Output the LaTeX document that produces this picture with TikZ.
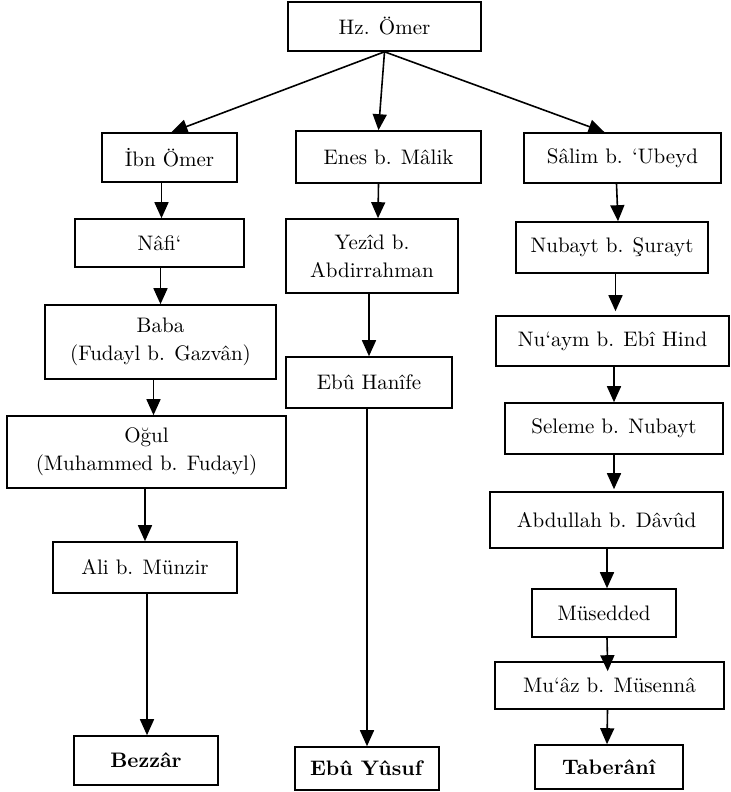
\documentclass[tikz,border=0pt]{standalone}
\usetikzlibrary{arrows.meta}

\begin{document}
\begin{tikzpicture}[x=0.5pt,y=-0.5pt,line width=0.8pt,
    box/.style={draw, align=center, inner sep=0pt, font=\fontsize{10.5}{14}\selectfont},
    >={Triangle[length=8pt,width=7pt]}]
    \useasboundingbox (0,0) rectangle (730,792);
    \node[box, minimum width=96.5pt, minimum height=24.5pt] (hz) at (384.5,26.5) {Hz. Ömer};

      \node[box, minimum width=67.5pt, minimum height=24.5pt] (ibn) at (169.5,157.5) {İbn Ömer};
      \node[box, minimum width=84.5pt, minimum height=24pt] (nafi) at (159.5,243) {Nâfi‘};
      \node[box, minimum width=115.5pt, minimum height=37pt] (baba) at (160.5,342) {Baba\\(Fudayl b. Gazvân)};
      \node[box, minimum width=139.5pt, minimum height=36pt] (ogul) at (146.5,452) {Oğul\\(Muhammed b. Fudayl)};
      \node[box, minimum width=92pt, minimum height=25.5pt] (ali) at (145,567.5) {Ali b. Münzir};
      \node[box, minimum width=72pt, minimum height=24.5pt] (bezzar) at (146,760.5) {\textbf{Bezzâr}};

      \node[box, minimum width=92.5pt, minimum height=26pt] (enes) at (388.5,157) {Enes b. Mâlik};
      \node[box, minimum width=86pt, minimum height=37pt] (yezid) at (372,256) {Yezîd b.\\Abdirrahman};
      \node[box, minimum width=83pt, minimum height=25.5pt] (hanife) at (369,382.5) {Ebû Hanîfe};
      \node[box, minimum width=72pt, minimum height=21.5pt] (yusuf) at (367,768.5) {\textbf{Ebû Yûsuf}};

      \node[box, minimum width=98.5pt, minimum height=25pt] (salim) at (622.5,158) {Sâlim b. ‘Ubeyd};
      \node[box, minimum width=96pt, minimum height=25.5pt] (nubayt) at (612,247.5) {Nubayt b. Şurayt};
      \node[box, minimum width=116.5pt, minimum height=25pt] (nuaym) at (612.5,341) {Nu‘aym b. Ebî Hind};
      \node[box, minimum width=109pt, minimum height=25.5pt] (seleme) at (614,428.5) {Seleme b. Nubayt};
      \node[box, minimum width=116.5pt, minimum height=28pt] (abdullah) at (606.5,520) {Abdullah b. Dâvûd};
      \node[box, minimum width=72pt, minimum height=24pt] (musedded) at (604,613) {Müsedded};
      \node[box, minimum width=114.5pt, minimum height=23.5pt] (muaz) at (609.5,685.5) {Mu‘âz b. Müsennâ};
      \node[box, minimum width=74pt, minimum height=22pt] (taberani) at (609,767) {\textbf{Taberânî}};

    \draw[->] (hz.south) -- ([xshift=1pt]ibn.north);
    \draw[->] (hz.south) -- ([xshift=-5pt]enes.north);
    \draw[->] (hz.south) -- ([xshift=-9pt]salim.north);

    \draw[->] ([xshift=1pt]nafi.north |- ibn.south) -- ([xshift=1pt]nafi.north);
    \draw[->] (baba.north |- nafi.south) -- (baba.north);
    \draw[->] ([xshift=-3.5pt]baba.south) -- ([xshift=3.5pt]ogul.north);
    \draw[->] (ali.north |- ogul.south) -- (ali.north);
    \draw[->] ([xshift=1pt]ali.south) -- ([xshift=0.5pt]bezzar.north);

    \draw[->] ([xshift=-5pt]enes.south) -- ([xshift=3pt]yezid.north);
    \draw[->] (hanife.north |- yezid.south) -- (hanife.north);
    \draw[->] (yusuf.north |- hanife.south) -- (yusuf.north);

    \draw[->] ([xshift=-3pt]salim.south) -- ([xshift=3pt]nubayt.north);
    \draw[->, shorten >=2pt] ([xshift=1.5pt]nuaym.north |- nubayt.south) -- ([xshift=1.5pt]nuaym.north);
    \draw[->] (seleme.north |- nuaym.south) -- (seleme.north);
    \draw[->, shorten >=1pt] (seleme.south) -- (seleme.south |- abdullah.north);
    \draw[->] ([xshift=1.5pt]musedded.north |- abdullah.south) -- ([xshift=1.5pt]musedded.north);
    \draw[->, shorten >=-5pt] ([xshift=1.5pt]musedded.south) -- ([xshift=-1pt]muaz.north);
    \draw[->] ([xshift=-1pt]muaz.south) -- ([xshift=-1pt]taberani.north);
\end{tikzpicture}
\end{document}
